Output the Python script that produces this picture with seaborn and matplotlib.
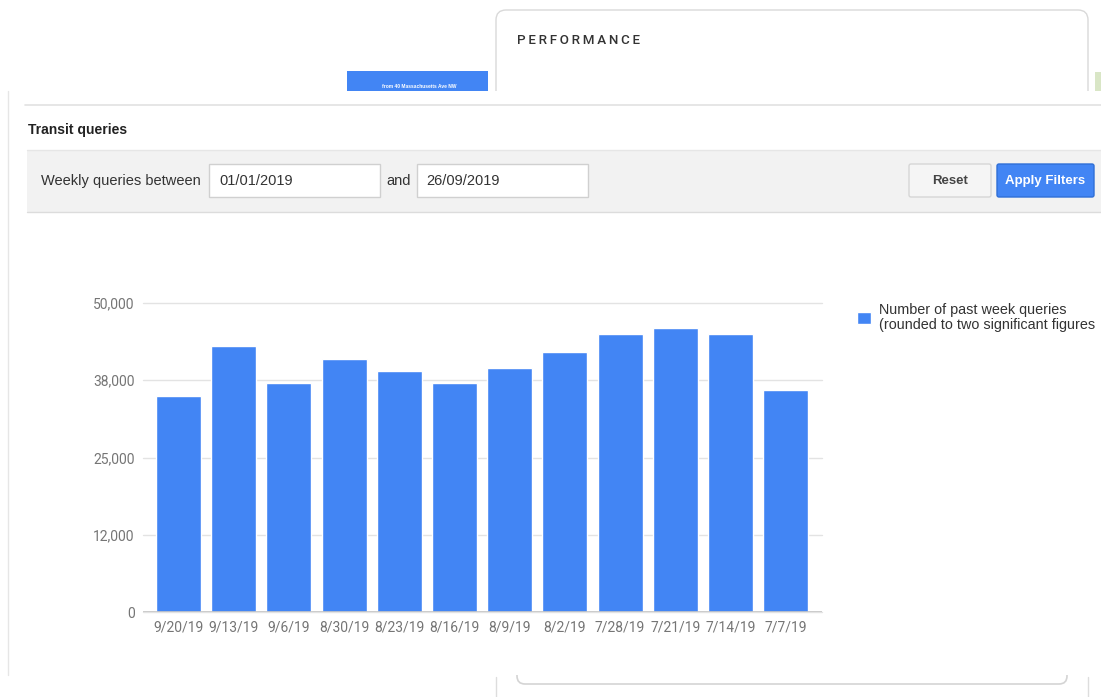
"""
Transit queries dashboard screenshot: weekly query counts as a bar chart,
with the surrounding filter panel drawn around it.
"""

import matplotlib
matplotlib.use("Agg")
import matplotlib.pyplot as plt
from matplotlib.patches import Rectangle, FancyBboxPatch
import seaborn as sns

# ---- data -------------------------------------------------------------
weeks = ["9/20/19", "9/13/19", "9/6/19", "8/30/19", "8/23/19", "8/16/19",
         "8/9/19", "8/2/19", "7/28/19", "7/21/19", "7/14/19", "7/7/19"]
queries = [35000, 43000, 37000, 41000, 39000, 37000,
           39500, 42000, 45000, 46000, 45000, 36000]
ytick_pos = [0, 12500, 25000, 37500, 50000]
ytick_labels = ["0", "12,000", "25,000", "38,000", "50,000"]
series_label = "Number of past week queries\n(rounded to two significant figures"
date_from = "01/01/2019"
date_to = "26/09/2019"

BLUE = "#4285F4"
W, H = 1101, 697

sns.set_style("white")
plt.rcParams["font.family"] = ["Liberation Sans", "DejaVu Sans"]

fig = plt.figure(figsize=(W / 100, H / 100), dpi=100)

# background layer in pixel coordinates (y down)
bg = fig.add_axes([0, 0, 1, 1], zorder=0)
bg.set_xlim(0, W)
bg.set_ylim(H, 0)
bg.axis("off")

# card behind the panel (top right)
bg.add_patch(FancyBboxPatch((496, 10), 592, 120, boxstyle="round,pad=0,rounding_size=10",
                            fc="white", ec="#d9d9d9", lw=1))
bg.text(517, 40, "\u2009".join("PERFORMANCE"), fontsize=9.6, color="#333333",
        va="center", family=["Roboto", "DejaVu Sans"], fontweight="medium")
bg.add_patch(Rectangle((347, 71), 141, 22, fc=BLUE, ec="none"))
bg.text(382, 87, "from 40 Massachusetts Ave NW", fontsize=3.5, color="white",
        va="center", fontweight="bold")
bg.add_patch(Rectangle((1095, 72), 8, 20, fc="#d9e6c6", ec="none"))

# card peeking out below the panel
bg.add_patch(FancyBboxPatch((517, 600), 550, 84, boxstyle="round,pad=0,rounding_size=8",
                            fc="white", ec="#d4d4d4", lw=1.2))
bg.plot([496, 496], [677, H], color="#dddddd", lw=1)
bg.plot([1088, 1088], [677, H], color="#dddddd", lw=1)

# main panel
bg.add_patch(Rectangle((8, 91), W, 584, fc="white", ec="none"))
bg.plot([8, 8], [91, 675], color="#e6e6e6", lw=1)
bg.plot([25, W], [105, 105], color="#e2e2e2", lw=1.2)
bg.text(28, 130, "Transit queries", fontsize=10, fontweight="bold", color="#222222",
        va="center")

# filter bar
bg.add_patch(Rectangle((27, 150), W, 62, fc="#f2f2f2", ec="none"))
bg.plot([27, W], [150, 150], color="#e6e6e6", lw=1)
bg.plot([27, W], [212, 212], color="#dcdcdc", lw=1)
bg.text(41, 181, "Weekly queries between", fontsize=10.5, color="#333333", va="center")
bg.add_patch(Rectangle((209, 164), 171, 33, fc="white", ec="#d0d0d0", lw=1))
bg.text(219, 181, date_from, fontsize=10.5, color="#333333", va="center")
bg.text(386, 181, "and", fontsize=10.5, color="#333333", va="center")
bg.add_patch(Rectangle((417, 164), 171, 33, fc="white", ec="#d0d0d0", lw=1))
bg.text(426, 181, date_to, fontsize=10.5, color="#333333", va="center")
bg.add_patch(FancyBboxPatch((909, 164), 82, 33, boxstyle="round,pad=0,rounding_size=2",
                            fc="#f5f5f5", ec="#d6d6d6", lw=1))
bg.text(950, 181, "Reset", fontsize=9.5, fontweight="bold", color="#444444",
        ha="center", va="center")
bg.add_patch(FancyBboxPatch((997, 164), 97, 33, boxstyle="round,pad=0,rounding_size=2",
                            fc=BLUE, ec="#2f6fd6", lw=1))
bg.text(1045, 181, "Apply Filters", fontsize=9.5, fontweight="bold", color="white",
        ha="center", va="center")

# ---- bar chart --------------------------------------------------------
ax = fig.add_axes([143 / W, 1 - 612 / H, 679 / W, 309 / H], zorder=1)
ax.set_facecolor("none")
sns.barplot(x=weeks, y=queries, color=BLUE, saturation=1, width=0.815,
            label=series_label, ax=ax)

ax.set_xlim(-0.645, 11.66)
ax.set_ylim(0, 50000)
ax.set_yticks(ytick_pos)
ax.set_yticklabels(ytick_labels)
ax.set_xlabel("")
ax.set_ylabel("")
ax.yaxis.grid(True, color="#e3e3e3", lw=1)
ax.set_axisbelow(True)
ax.axhline(0, color="#c4c4c4", lw=1.2, zorder=3)
for side in ["top", "right", "left", "bottom"]:
    ax.spines[side].set_visible(False)
ax.tick_params(length=0, colors="#757575", labelsize=10)
ax.tick_params(axis="y", pad=6)
ax.tick_params(axis="x", pad=6)
for lbl in ax.get_xticklabels() + ax.get_yticklabels():
    lbl.set_family("Roboto")
for ln in ax.get_ygridlines():
    ln.set_clip_on(False)

leg = ax.legend(loc="upper left", bbox_to_anchor=(857 / W, 1 - 303 / H),
                bbox_transform=fig.transFigure, frameon=False, fontsize=10.4,
                handlelength=0.95, handleheight=0.95, handletextpad=0.55,
                borderpad=0, borderaxespad=0)
for t in leg.get_texts():
    t.set_linespacing(1.1)
    t.set_color("#333333")

fig.savefig("out.png", dpi=100)
